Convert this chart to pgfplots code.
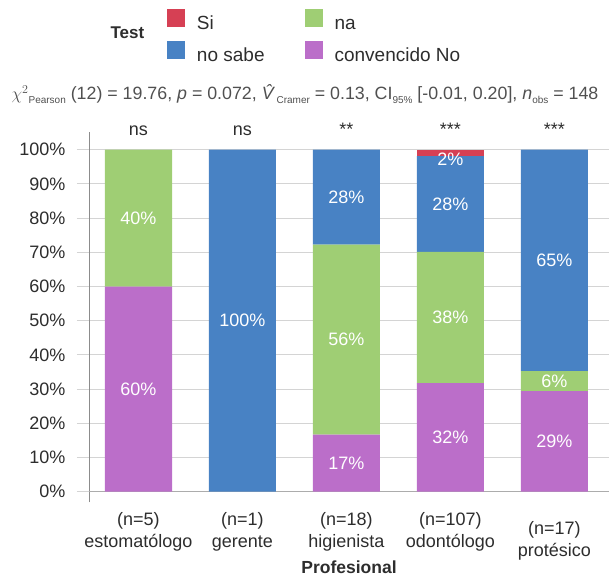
\documentclass[border=0pt]{standalone}
\usepackage{pgfplots}
\pgfplotsset{compat=1.18}
\usepackage{amsmath}
\usepackage{fontspec}
\setmainfont{Liberation Sans}
\definecolor{cSi}{RGB}{214,64,84}
\definecolor{cNoSabe}{RGB}{72,130,196}
\definecolor{cNa}{RGB}{159,206,116}
\definecolor{cConv}{RGB}{187,110,201}
\definecolor{gridc}{RGB}{212,212,212}
\definecolor{axisc}{RGB}{140,140,140}
\definecolor{txt}{RGB}{45,45,45}
\definecolor{subc}{RGB}{80,80,80}
\newcommand{\sub}[1]{\raisebox{-3.5pt}{\fontsize{10}{10}\selectfont #1}}
\pgfplotsset{
  common/.style={
    scale only axis, width=520pt, height=370pt,
    xmin=-0.476, xmax=4.526, ymin=-3.1, ymax=105.1,
    at={(89pt,73.7pt)}, anchor=south west,
  },
  mylegend/.style={legend image code/.code={\fill[##1] (0pt,-3pt) rectangle (18pt,15pt);}},
}
\begin{document}
\begin{tikzpicture}
\useasboundingbox (0,0) rectangle (609pt,576pt);
\begin{axis}[common,
  ybar stacked, bar width=0.645,
  axis lines*=left,
  x axis line style={draw=none},
  y axis line style={axisc, line width=1pt},
  xtick={0,1,2,3,4},
  xticklabels={{(n=5)\\estomatólogo},{(n=1)\\gerente},{(n=18)\\higienista},{(n=107)\\odontólogo},{\rule{0pt}{22pt}(n=17)\\protésico}},
  xtick style={draw=none},
  xticklabel style={align=center, anchor=north, yshift=5pt, font=\fontsize{18}{22}\selectfont, text=txt},
  ytick={0,10,...,100},
  yticklabels={0\%,10\%,20\%,30\%,40\%,50\%,60\%,70\%,80\%,90\%,100\%},
  yticklabel style={font=\fontsize{18}{21}\selectfont, text=txt, xshift=-8pt},
  ymajorgrids, grid style={gridc, line width=1pt},
  ytick style={gridc, line width=1pt},
  major tick length=12pt, tick align=outside,
  extra y ticks={0}, extra y tick labels={},
  extra y tick style={grid style={color=gray!65, line width=1pt}, tick style={gray!65, line width=1pt}},
  xlabel={Profesional},
  xlabel style={at={(axis description cs:0.5,0)}, anchor=base, yshift=-70.7pt, font=\fontsize{17.5}{20}\selectfont\bfseries, text=txt},
  legend columns=2,
  legend cell align=left,
  legend style={at={(rel axis cs:0.15,1.3332)}, anchor=north west, draw=none, fill=none,
    inner sep=0pt, outer sep=0pt,
    font=\fontsize{19}{22}\selectfont, text=txt,
    nodes={inner sep=0pt, text height=14pt, text depth=4pt},
    row sep=8pt,
    /tikz/every odd column/.append style={column sep=12pt},
    /tikz/every even column/.append style={column sep=40pt}},
]
\addlegendimage{fill=cSi, draw=none, mylegend}
\addlegendimage{fill=cNa, draw=none, mylegend}
\addlegendimage{fill=cNoSabe, draw=none, mylegend}
\addlegendimage{fill=cConv, draw=none, mylegend}
\addplot[fill=cConv, draw=none] coordinates {(0,60) (1,0) (2,16.67) (3,31.78) (4,29.41)};
\addplot[fill=cNa, draw=none] coordinates {(0,40) (1,0) (2,55.56) (3,38.32) (4,5.88)};
\addplot[fill=cNoSabe, draw=none] coordinates {(0,0) (1,100) (2,27.78) (3,28.04) (4,64.71)};
\addplot[fill=cSi, draw=none] coordinates {(0,0) (1,0) (2,0) (3,1.87) (4,0)};
\legend{Si,na,no sabe,convencido No}
\end{axis}
\begin{axis}[common, hide axis, clip=false]
\addplot[draw=none, mark=none, point meta=explicit symbolic,
  nodes near coords={\pgfplotspointmeta\%},
  every node near coord/.append style={anchor=center, text=white, font=\fontsize{18}{21}\selectfont}]
  table[meta=v] {
x y v
0 30 60
0 80 40
1 50 100
2 8.33 17
2 44.44 56
2 86.11 28
3 15.89 32
3 50.94 38
3 84.11 28
3 97.3 2
4 14.71 29
4 32.35 6
4 67.65 65
};
\addplot[draw=none, mark=none, point meta=explicit symbolic,
  nodes near coords={\pgfplotspointmeta},
  every node near coord/.append style={anchor=base, text=txt, font=\fontsize{18}{21}\selectfont}]
  table[meta=s] {
x y s
0 104.3 ns
1 104.3 ns
2 104.3 **
3 104.3 ***
4 104.3 ***
};
\end{axis}
\node[anchor=base west, font=\fontsize{17}{20}\selectfont\bfseries, text=txt] at (107pt,537pt) {Test};
\node[anchor=base, font=\fontsize{17.8}{20}\selectfont, text=subc] at (305pt,476pt)
  {$\chi^{2}$\sub{Pearson} (12) = 19.76, \textit{p} = 0.072, \textit{\^{V}}\sub{Cramer} = 0.13, CI\sub{95\%} [-0.01, 0.20], \textit{n}\sub{obs} = 148};
\end{tikzpicture}
\end{document}
